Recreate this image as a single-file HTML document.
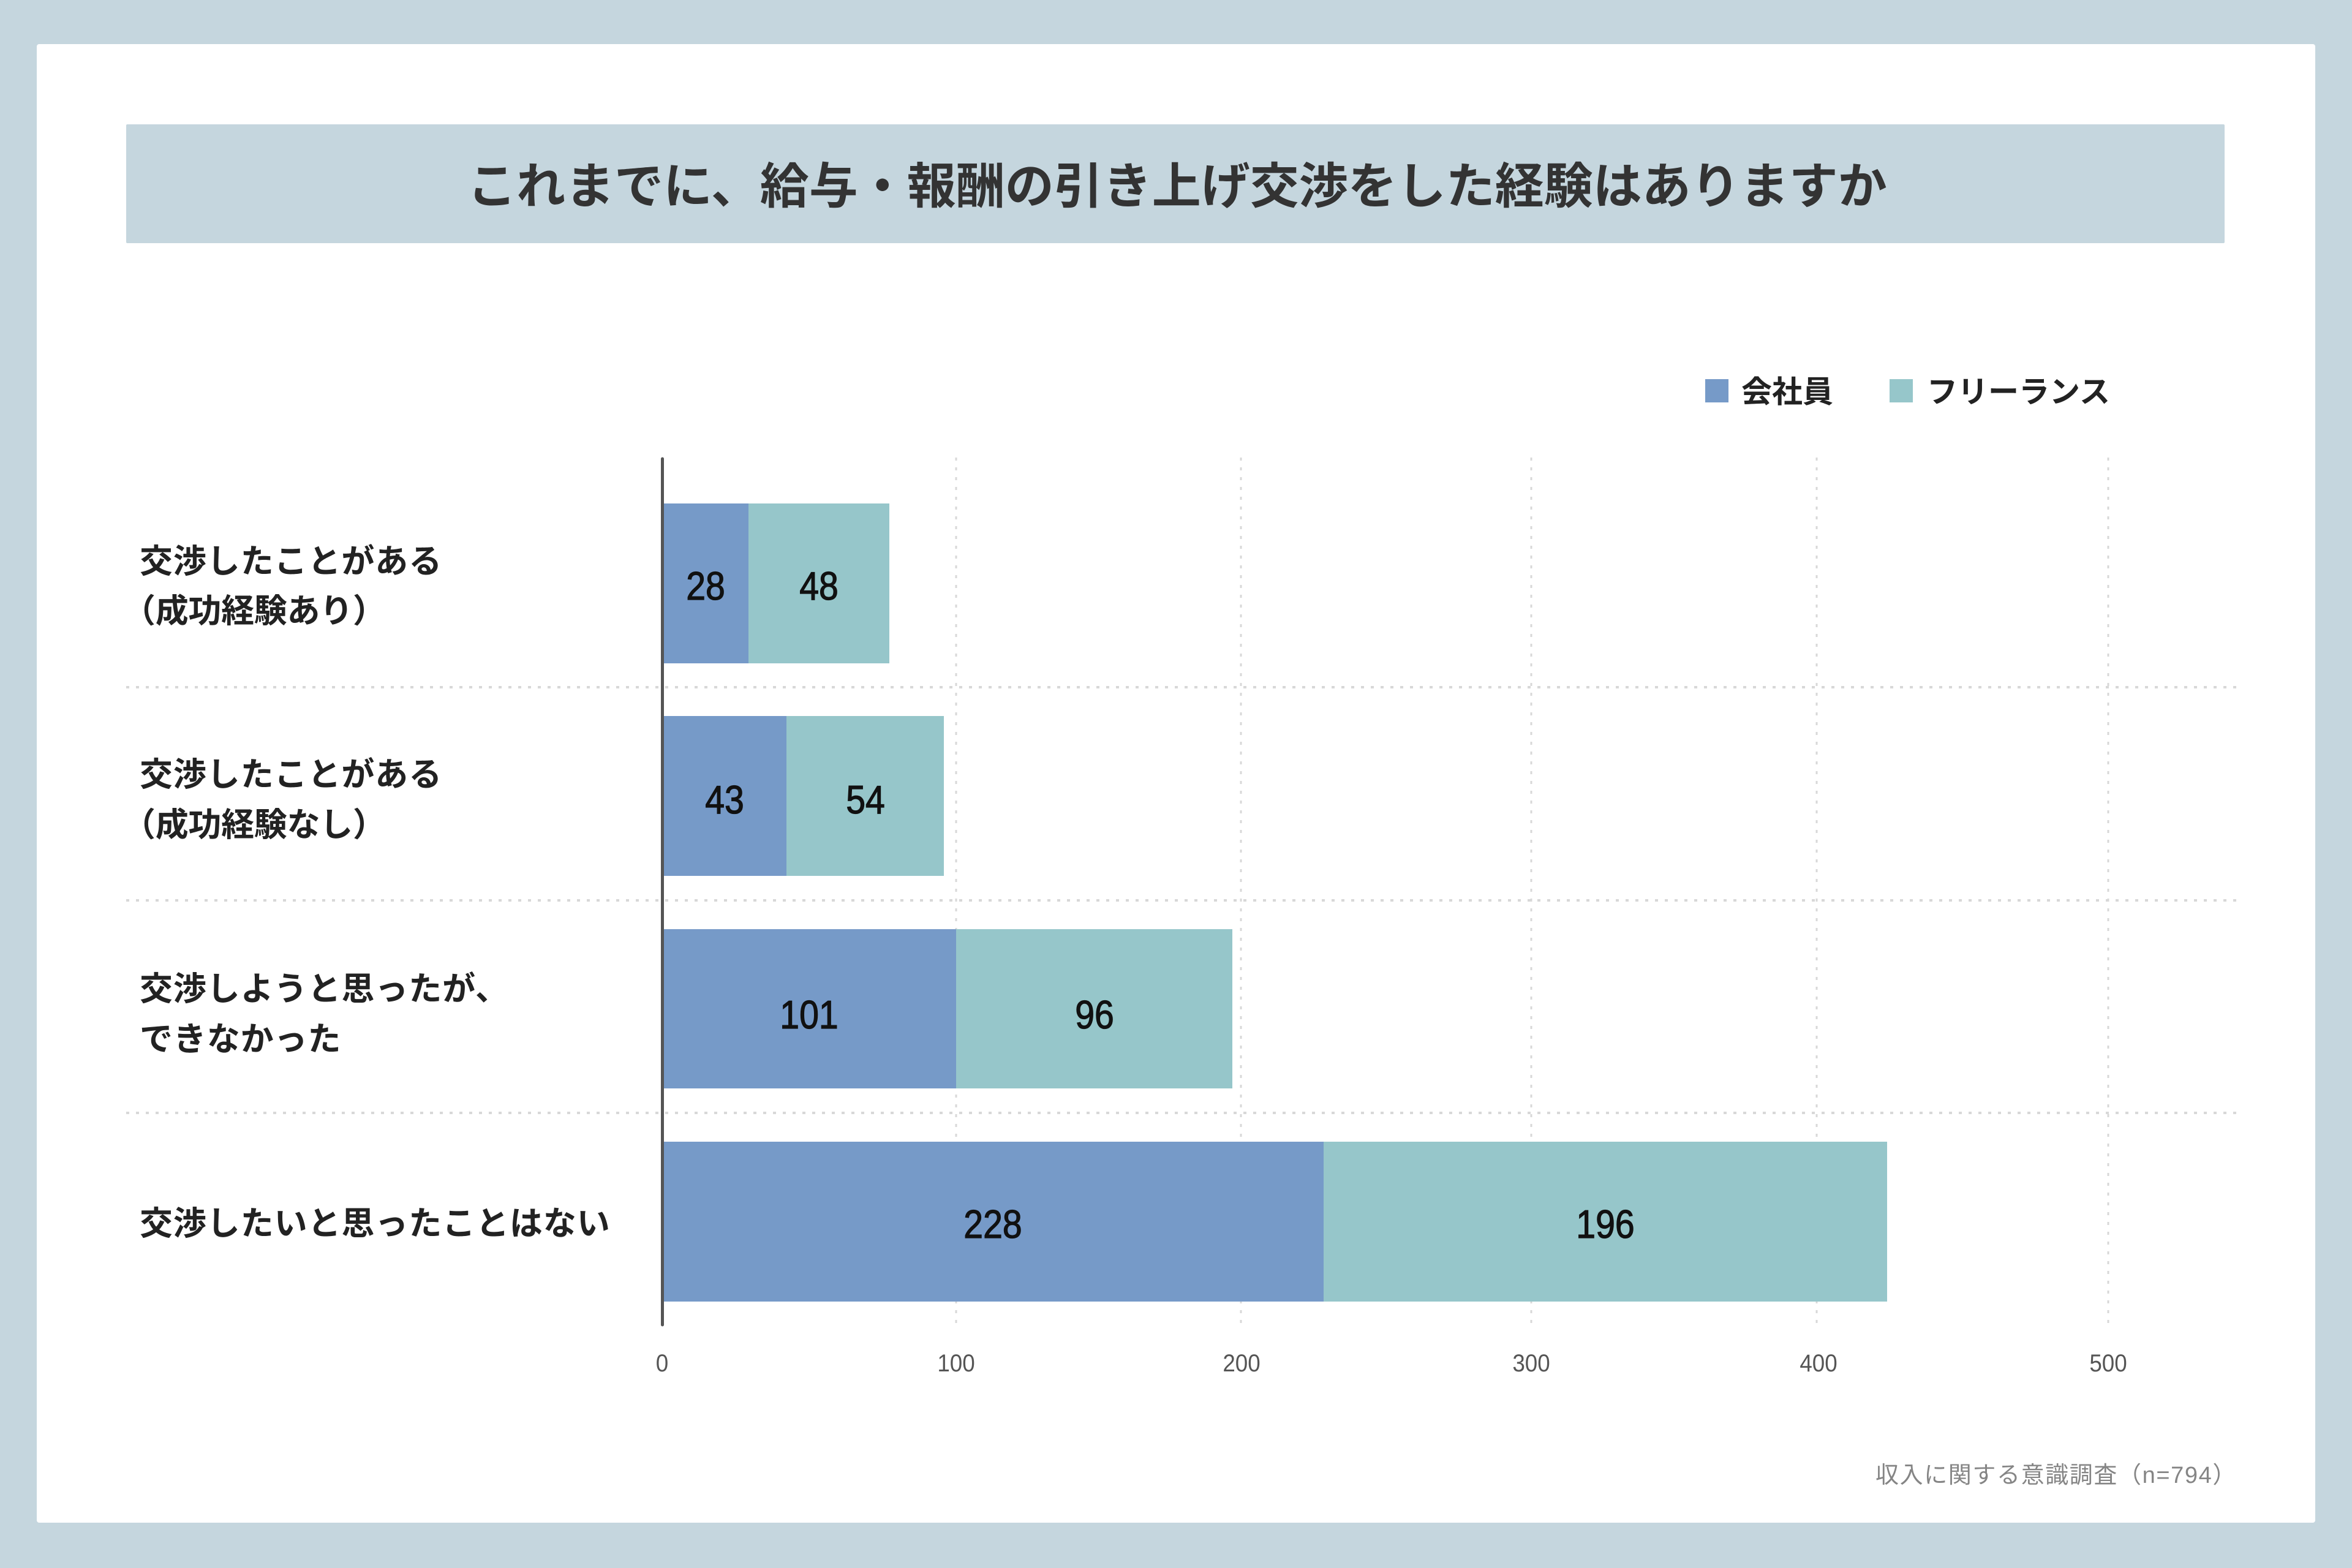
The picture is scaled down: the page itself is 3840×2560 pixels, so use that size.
<!DOCTYPE html>
<html><head><meta charset="utf-8">
<style>
html,body{margin:0;padding:0;background:#c5d6de;}
svg{display:block;}
</style></head>
<body>
<svg width="3840" height="2560" viewBox="0 0 3840 2560" xmlns="http://www.w3.org/2000/svg">
<rect x="0" y="0" width="3840" height="2560" fill="#c5d6de"/>
<rect x="60" y="72" width="3720" height="2414" rx="4" fill="#ffffff"/>
<!-- title -->
<rect x="206" y="203" width="3426" height="194" rx="2" fill="#c5d6de"/>
<text x="1922" y="332" text-anchor="middle" font-family="'Liberation Sans','Noto Sans CJK JP',sans-serif" font-weight="bold" font-size="80" fill="#333333">これまでに、給与・報酬の引き上げ交渉をした経験はありますか</text>
<!-- legend -->
<rect x="2784" y="619" width="38" height="38" fill="#769ac8"/>
<text x="2843" y="657" font-family="'Liberation Sans','Noto Sans CJK JP',sans-serif" font-weight="bold" font-size="50" fill="#222222">会社員</text>
<rect x="3085" y="619" width="38" height="38" fill="#96c6ca"/>
<text x="3146" y="657" font-family="'Liberation Sans','Noto Sans CJK JP',sans-serif" font-weight="bold" font-size="50" fill="#222222">フリーランス</text>
<!-- vertical grid -->
<g stroke="#d8d8d8" stroke-width="3" stroke-dasharray="5 11">
<line x1="1561" y1="747" x2="1561" y2="2163"/>
<line x1="2026" y1="747" x2="2026" y2="2163"/>
<line x1="2500" y1="747" x2="2500" y2="2163"/>
<line x1="2966" y1="747" x2="2966" y2="2163"/>
<line x1="3442" y1="747" x2="3442" y2="2163"/>
</g>
<!-- horizontal separators -->
<g stroke="#d8d8d8" stroke-width="4" stroke-dasharray="5 11">
<line x1="206" y1="1122" x2="3654" y2="1122"/>
<line x1="206" y1="1470" x2="3654" y2="1470"/>
<line x1="206" y1="1817" x2="3654" y2="1817"/>
</g>
<!-- bars -->
<rect x="1081" y="822" width="141" height="261" fill="#769ac8"/>
<rect x="1222" y="822" width="230" height="261" fill="#96c6ca"/>
<rect x="1081" y="1169" width="203" height="261" fill="#769ac8"/>
<rect x="1284" y="1169" width="257" height="261" fill="#96c6ca"/>
<rect x="1081" y="1517" width="480" height="260" fill="#769ac8"/>
<rect x="1561" y="1517" width="451" height="260" fill="#96c6ca"/>
<rect x="1081" y="1864" width="1080" height="261" fill="#769ac8"/>
<rect x="2161" y="1864" width="920" height="261" fill="#96c6ca"/>
<!-- axis -->
<line x1="1081.5" y1="749" x2="1081.5" y2="2163" stroke="#555555" stroke-width="5" stroke-linecap="round"/>
<!-- value labels -->
<g font-family="'Liberation Sans',sans-serif" font-size="65" fill="#111111" stroke="#111111" stroke-width="1.3" text-anchor="middle">
<text transform="translate(1152,979) scale(0.88,1)">28</text>
<text transform="translate(1337,979) scale(0.88,1)">48</text>
<text transform="translate(1183,1328) scale(0.88,1)">43</text>
<text transform="translate(1413,1328) scale(0.88,1)">54</text>
<text transform="translate(1321,1679) scale(0.88,1)">101</text>
<text transform="translate(1787,1679) scale(0.88,1)">96</text>
<text transform="translate(1621,2021) scale(0.88,1)">228</text>
<text transform="translate(2621,2021) scale(0.88,1)">196</text>
</g>
<!-- tick labels -->
<g font-family="'Liberation Sans',sans-serif" font-size="40" fill="#555555" text-anchor="middle">
<text transform="translate(1081,2239) scale(0.92,1)">0</text>
<text transform="translate(1561,2239) scale(0.92,1)">100</text>
<text transform="translate(2027,2239) scale(0.92,1)">200</text>
<text transform="translate(2500,2239) scale(0.92,1)">300</text>
<text transform="translate(2969,2239) scale(0.92,1)">400</text>
<text transform="translate(3442,2239) scale(0.92,1)">500</text>
</g>
<!-- category labels -->
<g font-family="'Liberation Sans','Noto Sans CJK JP',sans-serif" font-weight="bold" font-size="54" fill="#222222" letter-spacing="0.9">
<text x="228" y="935">交渉したことがある</text>
<text x="200" y="1016" letter-spacing="-0.3">（成功経験あり）</text>
<text x="228" y="1283">交渉したことがある</text>
<text x="200" y="1365" letter-spacing="-0.3">（成功経験なし）</text>
<text x="228" y="1633">交渉しようと思ったが、</text>
<text x="228" y="1715">できなかった</text>
<text x="228" y="2016">交渉したいと思ったことはない</text>
</g>
<!-- footer -->
<text x="3062" y="2421" font-family="'Liberation Sans','Noto Sans CJK JP',sans-serif" font-size="38" fill="#858585" letter-spacing="1.6">収入に関する意識調査（n=794）</text>
</svg>
</body></html>
